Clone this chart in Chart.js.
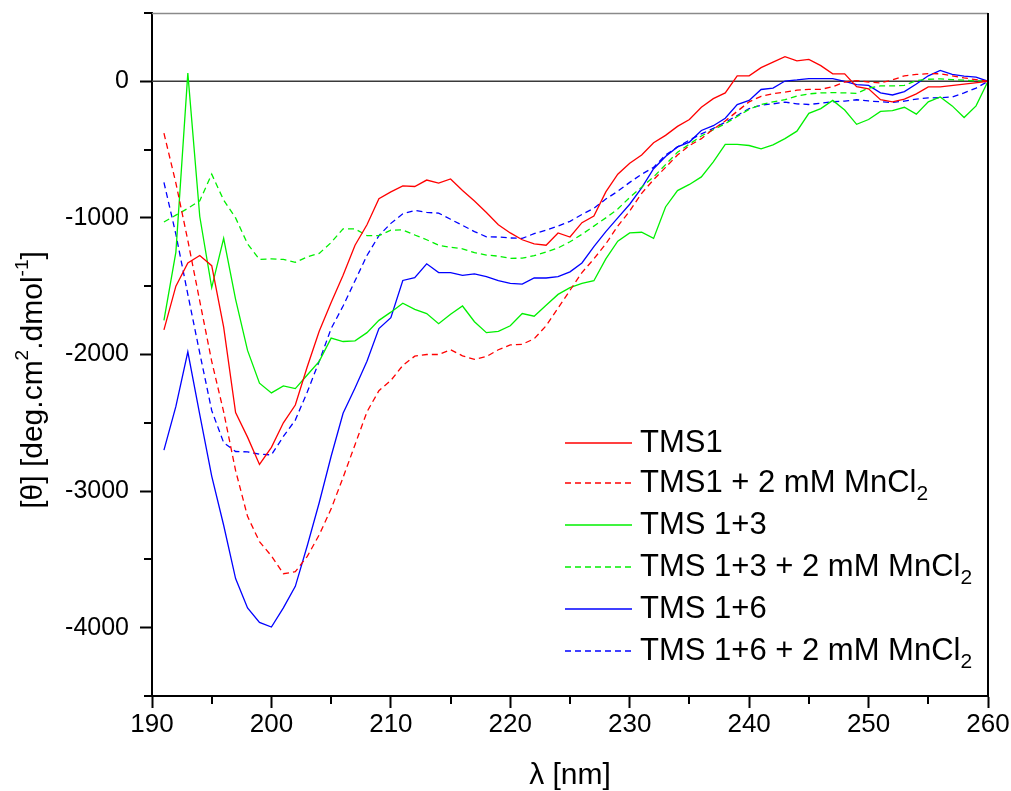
<!DOCTYPE html>
<html>
<head>
<meta charset="utf-8">
<script src="https://cdn.jsdelivr.net/npm/chart.js@4"></script>
<style>
  html, body { margin: 0; padding: 0; background: #fff; }
  #wrap { width: 1011px; height: 791px; }
</style>
</head>
<body>
<div id="wrap"><canvas id="cdChart" width="1011" height="791"></canvas></div>
<script>
// wavelength grid (nm)
const wavelengths = [
  191, 192, 193, 194, 195, 196, 197, 198, 199, 200,
  201, 202, 203, 204, 205, 206, 207, 208, 209, 210,
  211, 212, 213, 214, 215, 216, 217, 218, 219, 220,
  221, 222, 223, 224, 225, 226, 227, 228, 229, 230,
  231, 232, 233, 234, 235, 236, 237, 238, 239, 240,
  241, 242, 243, 244, 245, 246, 247, 248, 249, 250,
  251, 252, 253, 254, 255, 256, 257, 258, 259, 260
];

// mean residue ellipticity, one value per wavelength
const tms1 = [
  -1820, -1500, -1330, -1275, -1350, -1800, -2425, -2605, -2805, -2680,
  -2500, -2370, -2090, -1830, -1620, -1420, -1200, -1050, -860, -810,
  -765, -770, -723, -745, -715, -800, -877, -960, -1050, -1110,
  -1160, -1190, -1200, -1110, -1140, -1035, -987, -810, -680, -600,
  -540, -450, -396, -330, -280, -190, -127, -85, 40, 40,
  100, 140, 180, 150, 160, 115, 55, 55, -39, -55,
  -135, -150, -130, -92, -41, -41, null, null, null, 0
];
const tms1Mn = [
  -380, -745, -1165, -1610, -2050, -2420, -2850, -3185, -3370, -3475,
  -3605, -3590, -3478, -3320, -3130, -2900, -2660, -2420, -2265, -2190,
  -2080, -2012, -2000, -2000, -1965, -2010, -2035, -2015, -1965, -1930,
  -1925, -1885, -1790, -1660, -1530, -1400, -1300, -1190, -1060, -950,
  -820, -720, -630, -540, -470, -420, -350, -290, -220, -150,
  -110, -90, -80, -65, -59, -59, -40, -5, 5, -5,
  -12, 10, 40, 50, 56, 55, 40, 25, 12, 0
];
const tms13 = [
  -1750, -1250, 60, -990, -1510, -1150, -1596, -1970, -2210, -2281,
  -2230, -2250, -2150, -2050, -1880, -1905, -1900, -1840, -1750, -1690,
  -1625, -1670, -1700, -1775, -1705, -1645, -1760, -1840, -1830, -1790,
  -1700, -1720, -1640, -1560, -1510, -1480, -1460, -1300, -1170, -1110,
  -1105, -1150, -920, -800, -755, -700, -590, -462, -462, -470,
  -495, -465, -420, -365, -235, -200, -140, -210, -315, -280,
  -220, -215, -190, -240, -150, -115, -180, -265, -180, 0
];
const tms13Mn = [
  -1030, -980, -930, -875, -680, -870, -1000, -1190, -1304, -1300,
  -1304, -1325, -1285, -1260, -1180, -1080, -1080, -1130, -1130, -1090,
  -1088, -1125, -1160, -1200, -1215, -1226, -1255, -1272, -1280, -1296,
  -1295, -1276, -1250, -1220, -1175, -1120, -1060, -1000, -935, -850,
  -775, -700, -610, -520, -460, -400, -355, -310, -258, -205,
  -170, -150, -135, -108, -92, -85, -83, -85, -88, -50,
  -34, -34, -30, 5, 15, 18, 12, 8, 3, 0
];
const tms16 = [
  -2700, -2380, -1980, -2440, -2890, -3250, -3640, -3855, -3961, -3995,
  -3855, -3697, -3400, -3085, -2745, -2430, -2245, -2050, -1810, -1730,
  -1458, -1438, -1336, -1400, -1401, -1420, -1410, -1430, -1460, -1480,
  -1485, -1440, -1440, -1430, -1395, -1330, -1210, -1100, -1000, -900,
  -780, -640, -550, -480, -445, -360, -325, -270, -170, -140,
  -60, -50, 2, 10, 20, 20, 20, 0, -25, -30,
  -85, -100, -75, -20, 40, 80, 50, 38, 30, 0
];
const tms16Mn = [
  -740, -1120, -1560, -1990, -2410, -2645, -2710, -2713, -2730, -2735,
  -2600, -2480, -2275, -2050, -1810, -1645, -1460, -1275, -1130, -1040,
  -970, -945, -960, -965, -1010, -1055, -1100, -1138, -1140, -1147,
  -1150, -1115, -1090, -1060, -1025, -975, -930, -862, -805, -740,
  -680, -630, -540, -480, -430, -385, -345, -300, -250, -200,
  -175, -165, -152, -165, -170, -160, -150, -145, -135, -144,
  -150, -155, -145, -130, -122, -120, -115, -85, -50, 0
];

const seriesLabels = [
  "TMS1", "TMS1 + 2 mM MnCl2",
  "TMS 1+3", "TMS 1+3 + 2 mM MnCl2",
  "TMS 1+6", "TMS 1+6 + 2 mM MnCl2"
];
const yTickValues = [-4000, -3000, -2000, -1000, 0];
const yMinorTicks = [-4500, -3500, -2500, -1500, -500, 500];
const xTickValues = [190, 200, 210, 220, 230, 240, 250, 260];
const xMinorTicks = [195, 205, 215, 225, 235, 245, 255];

const FONT = "'Liberation Sans', Arial, sans-serif";

function toPoints(values) {
  return wavelengths.map((w, i) => ({ x: w, y: values[i] }));
}

function makeSet(label, values, color, dashed) {
  return {
    label: label,
    data: toPoints(values),
    borderColor: color,
    borderWidth: 1.3,
    borderDash: dashed ? [6, 4] : [],
    pointRadius: 0,
    tension: 0,
    fill: false,
    spanGaps: true
  };
}

// draw text made of pieces, some raised or lowered
function drawRich(ctx, parts, x, y, align) {
  let total = 0;
  parts.forEach(p => {
    ctx.font = p.font;
    p.w = ctx.measureText(p.t).width;
    total += p.w;
  });
  let cx = align === "center" ? x - total / 2 : x;
  parts.forEach(p => {
    ctx.font = p.font;
    ctx.fillText(p.t, cx, y + (p.dy || 0));
    cx += p.w;
  });
}

const legendRowY = [443, 483, 525, 567, 609, 651];

const cdDecor = {
  id: "cdDecor",
  beforeDatasetsDraw(chart) {
    const { ctx, chartArea: a, scales: { y } } = chart;
    const y0 = y.getPixelForValue(0);
    ctx.save();
    ctx.strokeStyle = "#3a3a3a";
    ctx.lineWidth = 1.5;
    ctx.beginPath();
    ctx.moveTo(a.left, y0);
    ctx.lineTo(a.right, y0);
    ctx.stroke();
    ctx.restore();
  },
  afterDraw(chart) {
    const { ctx, chartArea: a, scales: { x, y } } = chart;
    ctx.save();

    // top and right frame
    ctx.strokeStyle = "#8a8a8a";
    ctx.lineWidth = 1.5;
    ctx.beginPath();
    ctx.moveTo(a.left, a.top + 0.5);
    ctx.lineTo(a.right, a.top + 0.5);
    ctx.stroke();
    ctx.strokeStyle = "#000";
    ctx.lineWidth = 2;
    ctx.beginPath();
    ctx.moveTo(a.right, a.top);
    ctx.lineTo(a.right, a.bottom);
    ctx.stroke();

    // minor ticks
    ctx.beginPath();
    yMinorTicks.forEach(v => {
      const py = Math.round(y.getPixelForValue(v));
      ctx.moveTo(a.left - 8, py);
      ctx.lineTo(a.left, py);
    });
    xMinorTicks.forEach(v => {
      const px = Math.round(x.getPixelForValue(v));
      ctx.moveTo(px, a.bottom);
      ctx.lineTo(px, a.bottom + 8);
    });
    ctx.stroke();

    // legend
    ctx.textBaseline = "middle";
    ctx.fillStyle = "#000";
    chart.data.datasets.forEach((ds, i) => {
      const ly = legendRowY[i];
      ctx.strokeStyle = ds.borderColor;
      ctx.lineWidth = ds.borderWidth;
      ctx.setLineDash(ds.borderDash);
      ctx.beginPath();
      ctx.moveTo(565, ly);
      ctx.lineTo(632, ly);
      ctx.stroke();
      ctx.setLineDash([]);
      const big = "31px " + FONT;
      let parts;
      if (ds.label.endsWith("MnCl2")) {
        parts = [
          { t: ds.label.slice(0, -1), font: big },
          { t: "2", font: "21px " + FONT, dy: 11 }
        ];
      } else {
        parts = [{ t: ds.label, font: big }];
      }
      drawRich(ctx, parts, 640, ly, "left");
    });

    // axis titles
    drawRich(ctx, [{ t: "\u03bb [nm]", font: "30px " + FONT }], 570, 776, "center");

    ctx.translate(34, 380);
    ctx.rotate(-Math.PI / 2);
    const tf = "30px " + FONT;
    const sf = "19px " + FONT;
    drawRich(ctx, [
      { t: "[\u03b8] [deg.cm", font: tf },
      { t: "2", font: sf, dy: -11 },
      { t: ".dmol", font: tf },
      { t: "-1", font: sf, dy: -11 },
      { t: "]", font: tf }
    ], 0, 0, "center");

    ctx.restore();
  }
};

const ctx = document.getElementById("cdChart").getContext("2d");
new Chart(ctx, {
  type: "line",
  data: {
    datasets: [
      makeSet(seriesLabels[0], tms1, "#ff0000", false),
      makeSet(seriesLabels[1], tms1Mn, "#ff0000", true),
      makeSet(seriesLabels[2], tms13, "#00f000", false),
      makeSet(seriesLabels[3], tms13Mn, "#00f000", true),
      makeSet(seriesLabels[4], tms16, "#0000ff", false),
      makeSet(seriesLabels[5], tms16Mn, "#0000ff", true)
    ]
  },
  options: {
    responsive: false,
    animation: false,
    devicePixelRatio: 1,
    layout: { padding: { left: 0, right: 23, top: 13, bottom: 0 } },
    plugins: {
      legend: { display: false },
      tooltip: { enabled: false }
    },
    scales: {
      x: {
        type: "linear",
        position: "bottom",
        min: 190,
        max: 260,
        afterBuildTicks: s => { s.ticks = xTickValues.map(v => ({ value: v })); },
        afterFit: s => { s.height = 95; s.paddingLeft = 0; s.paddingRight = 0; },
        ticks: {
          autoSkip: false,
          maxRotation: 0,
          color: "#000",
          padding: 1,
          font: { family: FONT, size: 26 },
          callback: v => String(v)
        },
        grid: {
          drawOnChartArea: false,
          drawTicks: true,
          tickLength: 12,
          tickWidth: 2,
          tickColor: "#000"
        },
        border: { display: true, color: "#000", width: 2 }
      },
      y: {
        type: "linear",
        min: -4500,
        max: 500,
        afterBuildTicks: s => { s.ticks = yTickValues.map(v => ({ value: v })); },
        afterFit: s => { s.width = 152; s.paddingTop = 0; s.paddingBottom = 0; },
        ticks: {
          autoSkip: false,
          color: "#000",
          padding: 11,
          font: { family: FONT, size: 25 },
          callback: v => String(v)
        },
        grid: {
          drawOnChartArea: false,
          drawTicks: true,
          tickLength: 12,
          tickWidth: 2,
          tickColor: "#000"
        },
        border: { display: true, color: "#000", width: 2 }
      }
    }
  },
  plugins: [cdDecor]
});
</script>
</body>
</html>
